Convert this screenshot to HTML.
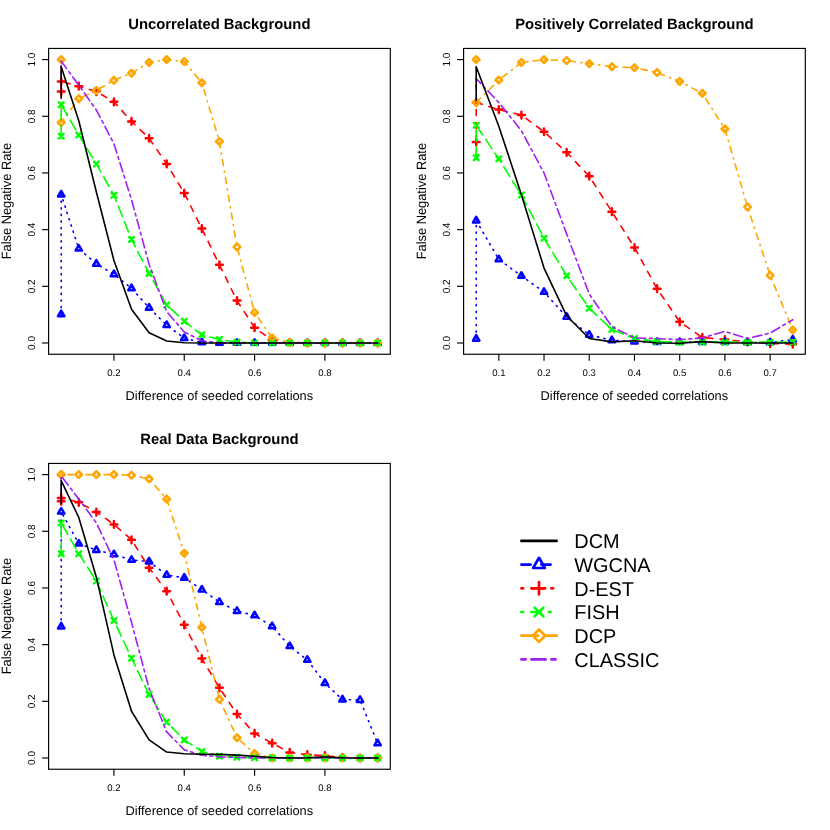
<!DOCTYPE html>
<html><head><meta charset="utf-8"><title>False Negative Rate</title>
<style>
html,body{margin:0;padding:0;background:#fff;}
svg{display:block;will-change:transform;text-rendering:geometricPrecision;font-family:"Liberation Sans",sans-serif;fill:#000;}
</style></head>
<body>
<svg width="830" height="830" viewBox="0 0 830 830">
<rect x="0" y="0" width="830" height="830" fill="#ffffff"/>
<path d="M61.2 91.62L61.2 81.42L78.78 86.24L96.36 91.62L113.94 101.83L131.52 121.38L149.1 138.24L166.68 163.89L184.26 193.08L201.84 228.59L219.42 264.78L237 300.6L254.58 327.7L272.16 340.17L289.74 342.43L307.32 343L324.9 343L342.48 343L360.06 343L377.64 343" fill="none" stroke="#FF0000" stroke-width="1.6" stroke-linecap="round" stroke-linejoin="round" stroke-dasharray="6.13 7.03"/>
<path d="M57.83 91.62H64.57M61.2 88.26V94.99" fill="none" stroke="#FF0000" stroke-width="2.5" stroke-linecap="round" stroke-linejoin="round"/>
<path d="M57.83 81.42H64.57M61.2 78.06V84.79" fill="none" stroke="#FF0000" stroke-width="2.5" stroke-linecap="round" stroke-linejoin="round"/>
<path d="M75.41 86.24H82.15M78.78 82.87V89.61" fill="none" stroke="#FF0000" stroke-width="2.5" stroke-linecap="round" stroke-linejoin="round"/>
<path d="M92.99 91.62H99.73M96.36 88.26V94.99" fill="none" stroke="#FF0000" stroke-width="2.5" stroke-linecap="round" stroke-linejoin="round"/>
<path d="M110.57 101.83H117.31M113.94 98.46V105.19" fill="none" stroke="#FF0000" stroke-width="2.5" stroke-linecap="round" stroke-linejoin="round"/>
<path d="M128.15 121.38H134.89M131.52 118.02V124.75" fill="none" stroke="#FF0000" stroke-width="2.5" stroke-linecap="round" stroke-linejoin="round"/>
<path d="M145.73 138.24H152.47M149.1 134.88V141.61" fill="none" stroke="#FF0000" stroke-width="2.5" stroke-linecap="round" stroke-linejoin="round"/>
<path d="M163.31 163.89H170.05M166.68 160.53V167.26" fill="none" stroke="#FF0000" stroke-width="2.5" stroke-linecap="round" stroke-linejoin="round"/>
<path d="M180.89 193.08H187.63M184.26 189.72V196.45" fill="none" stroke="#FF0000" stroke-width="2.5" stroke-linecap="round" stroke-linejoin="round"/>
<path d="M198.47 228.59H205.21M201.84 225.23V231.96" fill="none" stroke="#FF0000" stroke-width="2.5" stroke-linecap="round" stroke-linejoin="round"/>
<path d="M216.05 264.78H222.79M219.42 261.42V268.15" fill="none" stroke="#FF0000" stroke-width="2.5" stroke-linecap="round" stroke-linejoin="round"/>
<path d="M233.63 300.6H240.37M237 297.24V303.97" fill="none" stroke="#FF0000" stroke-width="2.5" stroke-linecap="round" stroke-linejoin="round"/>
<path d="M251.21 327.7H257.95M254.58 324.33V331.06" fill="none" stroke="#FF0000" stroke-width="2.5" stroke-linecap="round" stroke-linejoin="round"/>
<path d="M268.79 340.17H275.53M272.16 336.8V343.53" fill="none" stroke="#FF0000" stroke-width="2.5" stroke-linecap="round" stroke-linejoin="round"/>
<path d="M286.37 342.43H293.11M289.74 339.07V345.8" fill="none" stroke="#FF0000" stroke-width="2.5" stroke-linecap="round" stroke-linejoin="round"/>
<path d="M303.95 343H310.69M307.32 339.63V346.37" fill="none" stroke="#FF0000" stroke-width="2.5" stroke-linecap="round" stroke-linejoin="round"/>
<path d="M321.53 343H328.27M324.9 339.63V346.37" fill="none" stroke="#FF0000" stroke-width="2.5" stroke-linecap="round" stroke-linejoin="round"/>
<path d="M339.11 343H345.85M342.48 339.63V346.37" fill="none" stroke="#FF0000" stroke-width="2.5" stroke-linecap="round" stroke-linejoin="round"/>
<path d="M356.69 343H363.43M360.06 339.63V346.37" fill="none" stroke="#FF0000" stroke-width="2.5" stroke-linecap="round" stroke-linejoin="round"/>
<path d="M374.27 343H381.01M377.64 339.63V346.37" fill="none" stroke="#FF0000" stroke-width="2.5" stroke-linecap="round" stroke-linejoin="round"/>
<path d="M61.2 314.38L61.2 194.64L78.78 248.77L96.36 263.79L113.94 274.28L131.52 288.3L149.1 307.8L166.68 325.15L184.26 338.18L201.84 342.43L219.42 343L237 343L254.58 343L272.16 343L289.74 343L307.32 343L324.9 343L342.48 343L360.06 343L377.64 343" fill="none" stroke="#0000FF" stroke-width="1.6" stroke-linecap="round" stroke-linejoin="round" stroke-dasharray="1.2 5.39"/>
<path d="M61.2 310.68L64.41 316.23L57.99 316.23Z" fill="none" stroke="#0000FF" stroke-width="2.5" stroke-linecap="round" stroke-linejoin="round"/>
<path d="M61.2 190.94L64.41 196.49L57.99 196.49Z" fill="none" stroke="#0000FF" stroke-width="2.5" stroke-linecap="round" stroke-linejoin="round"/>
<path d="M78.78 245.07L81.99 250.62L75.57 250.62Z" fill="none" stroke="#0000FF" stroke-width="2.5" stroke-linecap="round" stroke-linejoin="round"/>
<path d="M96.36 260.09L99.57 265.64L93.15 265.64Z" fill="none" stroke="#0000FF" stroke-width="2.5" stroke-linecap="round" stroke-linejoin="round"/>
<path d="M113.94 270.57L117.15 276.13L110.73 276.13Z" fill="none" stroke="#0000FF" stroke-width="2.5" stroke-linecap="round" stroke-linejoin="round"/>
<path d="M131.52 284.6L134.73 290.15L128.31 290.15Z" fill="none" stroke="#0000FF" stroke-width="2.5" stroke-linecap="round" stroke-linejoin="round"/>
<path d="M149.1 304.1L152.31 309.65L145.89 309.65Z" fill="none" stroke="#0000FF" stroke-width="2.5" stroke-linecap="round" stroke-linejoin="round"/>
<path d="M166.68 321.44L169.89 327L163.47 327Z" fill="none" stroke="#0000FF" stroke-width="2.5" stroke-linecap="round" stroke-linejoin="round"/>
<path d="M184.26 334.48L187.47 340.03L181.05 340.03Z" fill="none" stroke="#0000FF" stroke-width="2.5" stroke-linecap="round" stroke-linejoin="round"/>
<path d="M201.84 338.73L205.05 344.28L198.63 344.28Z" fill="none" stroke="#0000FF" stroke-width="2.5" stroke-linecap="round" stroke-linejoin="round"/>
<path d="M219.42 339.3L222.63 344.85L216.21 344.85Z" fill="none" stroke="#0000FF" stroke-width="2.5" stroke-linecap="round" stroke-linejoin="round"/>
<path d="M237 339.3L240.21 344.85L233.79 344.85Z" fill="none" stroke="#0000FF" stroke-width="2.5" stroke-linecap="round" stroke-linejoin="round"/>
<path d="M254.58 339.3L257.79 344.85L251.37 344.85Z" fill="none" stroke="#0000FF" stroke-width="2.5" stroke-linecap="round" stroke-linejoin="round"/>
<path d="M272.16 339.3L275.37 344.85L268.95 344.85Z" fill="none" stroke="#0000FF" stroke-width="2.5" stroke-linecap="round" stroke-linejoin="round"/>
<path d="M289.74 339.3L292.95 344.85L286.53 344.85Z" fill="none" stroke="#0000FF" stroke-width="2.5" stroke-linecap="round" stroke-linejoin="round"/>
<path d="M307.32 339.3L310.53 344.85L304.11 344.85Z" fill="none" stroke="#0000FF" stroke-width="2.5" stroke-linecap="round" stroke-linejoin="round"/>
<path d="M324.9 339.3L328.11 344.85L321.69 344.85Z" fill="none" stroke="#0000FF" stroke-width="2.5" stroke-linecap="round" stroke-linejoin="round"/>
<path d="M342.48 339.3L345.69 344.85L339.27 344.85Z" fill="none" stroke="#0000FF" stroke-width="2.5" stroke-linecap="round" stroke-linejoin="round"/>
<path d="M360.06 339.3L363.27 344.85L356.85 344.85Z" fill="none" stroke="#0000FF" stroke-width="2.5" stroke-linecap="round" stroke-linejoin="round"/>
<path d="M377.64 339.3L380.85 344.85L374.43 344.85Z" fill="none" stroke="#0000FF" stroke-width="2.5" stroke-linecap="round" stroke-linejoin="round"/>
<path d="M61.2 59.6L61.2 122.51L78.78 98.71L96.36 90.49L113.94 80.29L131.52 73.2L149.1 62.43L166.68 59.6L184.26 61.58L201.84 82.84L219.42 141.5L237 246.93L254.58 312.53L272.16 337.9L289.74 342.43L307.32 343L324.9 343L342.48 343L360.06 343L377.64 343" fill="none" stroke="#FFA500" stroke-width="1.6" stroke-linecap="round" stroke-linejoin="round" stroke-dasharray="1.2 5.39 6.13 5.39"/>
<path d="M57.83 59.6L61.2 56.23L64.57 59.6L61.2 62.97Z" fill="none" stroke="#FFA500" stroke-width="2.5" stroke-linecap="round" stroke-linejoin="round"/>
<path d="M57.83 122.51L61.2 119.15L64.57 122.51L61.2 125.88Z" fill="none" stroke="#FFA500" stroke-width="2.5" stroke-linecap="round" stroke-linejoin="round"/>
<path d="M75.41 98.71L78.78 95.34L82.15 98.71L78.78 102.08Z" fill="none" stroke="#FFA500" stroke-width="2.5" stroke-linecap="round" stroke-linejoin="round"/>
<path d="M92.99 90.49L96.36 87.12L99.73 90.49L96.36 93.86Z" fill="none" stroke="#FFA500" stroke-width="2.5" stroke-linecap="round" stroke-linejoin="round"/>
<path d="M110.57 80.29L113.94 76.92L117.31 80.29L113.94 83.65Z" fill="none" stroke="#FFA500" stroke-width="2.5" stroke-linecap="round" stroke-linejoin="round"/>
<path d="M128.15 73.2L131.52 69.84L134.89 73.2L131.52 76.57Z" fill="none" stroke="#FFA500" stroke-width="2.5" stroke-linecap="round" stroke-linejoin="round"/>
<path d="M145.73 62.43L149.1 59.07L152.47 62.43L149.1 65.8Z" fill="none" stroke="#FFA500" stroke-width="2.5" stroke-linecap="round" stroke-linejoin="round"/>
<path d="M163.31 59.6L166.68 56.23L170.05 59.6L166.68 62.97Z" fill="none" stroke="#FFA500" stroke-width="2.5" stroke-linecap="round" stroke-linejoin="round"/>
<path d="M180.89 61.58L184.26 58.22L187.63 61.58L184.26 64.95Z" fill="none" stroke="#FFA500" stroke-width="2.5" stroke-linecap="round" stroke-linejoin="round"/>
<path d="M198.47 82.84L201.84 79.47L205.21 82.84L201.84 86.2Z" fill="none" stroke="#FFA500" stroke-width="2.5" stroke-linecap="round" stroke-linejoin="round"/>
<path d="M216.05 141.5L219.42 138.14L222.79 141.5L219.42 144.87Z" fill="none" stroke="#FFA500" stroke-width="2.5" stroke-linecap="round" stroke-linejoin="round"/>
<path d="M233.63 246.93L237 243.56L240.37 246.93L237 250.29Z" fill="none" stroke="#FFA500" stroke-width="2.5" stroke-linecap="round" stroke-linejoin="round"/>
<path d="M251.21 312.53L254.58 309.17L257.95 312.53L254.58 315.9Z" fill="none" stroke="#FFA500" stroke-width="2.5" stroke-linecap="round" stroke-linejoin="round"/>
<path d="M268.79 337.9L272.16 334.53L275.53 337.9L272.16 341.26Z" fill="none" stroke="#FFA500" stroke-width="2.5" stroke-linecap="round" stroke-linejoin="round"/>
<path d="M286.37 342.43L289.74 339.07L293.11 342.43L289.74 345.8Z" fill="none" stroke="#FFA500" stroke-width="2.5" stroke-linecap="round" stroke-linejoin="round"/>
<path d="M303.95 343L307.32 339.63L310.69 343L307.32 346.37Z" fill="none" stroke="#FFA500" stroke-width="2.5" stroke-linecap="round" stroke-linejoin="round"/>
<path d="M321.53 343L324.9 339.63L328.27 343L324.9 346.37Z" fill="none" stroke="#FFA500" stroke-width="2.5" stroke-linecap="round" stroke-linejoin="round"/>
<path d="M339.11 343L342.48 339.63L345.85 343L342.48 346.37Z" fill="none" stroke="#FFA500" stroke-width="2.5" stroke-linecap="round" stroke-linejoin="round"/>
<path d="M356.69 343L360.06 339.63L363.43 343L360.06 346.37Z" fill="none" stroke="#FFA500" stroke-width="2.5" stroke-linecap="round" stroke-linejoin="round"/>
<path d="M374.27 343L377.64 339.63L381.01 343L377.64 346.37Z" fill="none" stroke="#FFA500" stroke-width="2.5" stroke-linecap="round" stroke-linejoin="round"/>
<path d="M61.2 136.12L61.2 104.66L78.78 134.98L96.36 163.89L113.94 195.21L131.52 239.42L149.1 273.57L166.68 305.02L184.26 321.18L201.84 334.87L219.42 339.6L237 342.15L254.58 343L272.16 343L289.74 343L307.32 343L324.9 343L342.48 343L360.06 343L377.64 343" fill="none" stroke="#00FF00" stroke-width="1.6" stroke-linecap="round" stroke-linejoin="round" stroke-dasharray="11.07 5.39"/>
<path d="M58.82 133.74L63.58 138.5M58.82 138.5L63.58 133.74" fill="none" stroke="#00FF00" stroke-width="2.5" stroke-linecap="round" stroke-linejoin="round"/>
<path d="M58.82 102.28L63.58 107.04M58.82 107.04L63.58 102.28" fill="none" stroke="#00FF00" stroke-width="2.5" stroke-linecap="round" stroke-linejoin="round"/>
<path d="M76.4 132.6L81.16 137.36M76.4 137.36L81.16 132.6" fill="none" stroke="#00FF00" stroke-width="2.5" stroke-linecap="round" stroke-linejoin="round"/>
<path d="M93.98 161.51L98.74 166.27M93.98 166.27L98.74 161.51" fill="none" stroke="#00FF00" stroke-width="2.5" stroke-linecap="round" stroke-linejoin="round"/>
<path d="M111.56 192.83L116.32 197.59M111.56 197.59L116.32 192.83" fill="none" stroke="#00FF00" stroke-width="2.5" stroke-linecap="round" stroke-linejoin="round"/>
<path d="M129.14 237.04L133.9 241.8M129.14 241.8L133.9 237.04" fill="none" stroke="#00FF00" stroke-width="2.5" stroke-linecap="round" stroke-linejoin="round"/>
<path d="M146.72 271.19L151.48 275.95M146.72 275.95L151.48 271.19" fill="none" stroke="#00FF00" stroke-width="2.5" stroke-linecap="round" stroke-linejoin="round"/>
<path d="M164.3 302.64L169.06 307.4M164.3 307.4L169.06 302.64" fill="none" stroke="#00FF00" stroke-width="2.5" stroke-linecap="round" stroke-linejoin="round"/>
<path d="M181.88 318.8L186.64 323.56M181.88 323.56L186.64 318.8" fill="none" stroke="#00FF00" stroke-width="2.5" stroke-linecap="round" stroke-linejoin="round"/>
<path d="M199.46 332.49L204.22 337.25M199.46 337.25L204.22 332.49" fill="none" stroke="#00FF00" stroke-width="2.5" stroke-linecap="round" stroke-linejoin="round"/>
<path d="M217.04 337.22L221.8 341.98M217.04 341.98L221.8 337.22" fill="none" stroke="#00FF00" stroke-width="2.5" stroke-linecap="round" stroke-linejoin="round"/>
<path d="M234.62 339.77L239.38 344.53M234.62 344.53L239.38 339.77" fill="none" stroke="#00FF00" stroke-width="2.5" stroke-linecap="round" stroke-linejoin="round"/>
<path d="M252.2 340.62L256.96 345.38M252.2 345.38L256.96 340.62" fill="none" stroke="#00FF00" stroke-width="2.5" stroke-linecap="round" stroke-linejoin="round"/>
<path d="M269.78 340.62L274.54 345.38M269.78 345.38L274.54 340.62" fill="none" stroke="#00FF00" stroke-width="2.5" stroke-linecap="round" stroke-linejoin="round"/>
<path d="M287.36 340.62L292.12 345.38M287.36 345.38L292.12 340.62" fill="none" stroke="#00FF00" stroke-width="2.5" stroke-linecap="round" stroke-linejoin="round"/>
<path d="M304.94 340.62L309.7 345.38M304.94 345.38L309.7 340.62" fill="none" stroke="#00FF00" stroke-width="2.5" stroke-linecap="round" stroke-linejoin="round"/>
<path d="M322.52 340.62L327.28 345.38M322.52 345.38L327.28 340.62" fill="none" stroke="#00FF00" stroke-width="2.5" stroke-linecap="round" stroke-linejoin="round"/>
<path d="M340.1 340.62L344.86 345.38M340.1 345.38L344.86 340.62" fill="none" stroke="#00FF00" stroke-width="2.5" stroke-linecap="round" stroke-linejoin="round"/>
<path d="M357.68 340.62L362.44 345.38M357.68 345.38L362.44 340.62" fill="none" stroke="#00FF00" stroke-width="2.5" stroke-linecap="round" stroke-linejoin="round"/>
<path d="M375.26 340.62L380.02 345.38M375.26 345.38L380.02 340.62" fill="none" stroke="#00FF00" stroke-width="2.5" stroke-linecap="round" stroke-linejoin="round"/>
<path d="M61.2 87.94L61.2 61.3L78.78 85.11L96.36 110.05L113.94 143.77L131.52 199.6L149.1 264.21L166.68 311.54L184.26 332.03L201.84 340.73L219.42 343L237 343L254.58 343L272.16 343L289.74 343L307.32 343L324.9 343L342.48 343L360.06 343L377.64 343" fill="none" stroke="#A020F0" stroke-width="1.6" stroke-linecap="round" stroke-linejoin="round" stroke-dasharray="2.84 3.74 9.42 3.74"/>
<path d="M61.2 98.14L61.2 66.69L78.78 120.81L96.36 191.95L113.94 260.53L131.52 309.28L149.1 332.71L166.68 341.02L184.26 342.72L201.84 343L219.42 343L237 343L254.58 343L272.16 343L289.74 343L307.32 343L324.9 343L342.48 343L360.06 343L377.64 343" fill="none" stroke="#000000" stroke-width="1.6" stroke-linecap="round" stroke-linejoin="round"/>
<rect x="48.6" y="48.45" width="341.7" height="305.8" fill="none" stroke="#000" stroke-width="1.15"/>
<path d="M42.1 343.0H48.6" stroke="#000" stroke-width="1.15" fill="none"/>
<text transform="translate(35 343) rotate(-90) scale(1.04,1.08)" text-anchor="middle" font-size="9.6">0.0</text>
<path d="M42.1 286.32H48.6" stroke="#000" stroke-width="1.15" fill="none"/>
<text transform="translate(35 286.32) rotate(-90) scale(1.04,1.08)" text-anchor="middle" font-size="9.6">0.2</text>
<path d="M42.1 229.64H48.6" stroke="#000" stroke-width="1.15" fill="none"/>
<text transform="translate(35 229.64) rotate(-90) scale(1.04,1.08)" text-anchor="middle" font-size="9.6">0.4</text>
<path d="M42.1 172.96H48.6" stroke="#000" stroke-width="1.15" fill="none"/>
<text transform="translate(35 172.96) rotate(-90) scale(1.04,1.08)" text-anchor="middle" font-size="9.6">0.6</text>
<path d="M42.1 116.28H48.6" stroke="#000" stroke-width="1.15" fill="none"/>
<text transform="translate(35 116.28) rotate(-90) scale(1.04,1.08)" text-anchor="middle" font-size="9.6">0.8</text>
<path d="M42.1 59.6H48.6" stroke="#000" stroke-width="1.15" fill="none"/>
<text transform="translate(35 59.6) rotate(-90) scale(1.04,1.08)" text-anchor="middle" font-size="9.6">1.0</text>
<path d="M113.94 354.25V360.75" stroke="#000" stroke-width="1.15" fill="none"/>
<text x="113.94" y="376.1" text-anchor="middle" font-size="9.6">0.2</text>
<path d="M184.26 354.25V360.75" stroke="#000" stroke-width="1.15" fill="none"/>
<text x="184.26" y="376.1" text-anchor="middle" font-size="9.6">0.4</text>
<path d="M254.58 354.25V360.75" stroke="#000" stroke-width="1.15" fill="none"/>
<text x="254.58" y="376.1" text-anchor="middle" font-size="9.6">0.6</text>
<path d="M324.9 354.25V360.75" stroke="#000" stroke-width="1.15" fill="none"/>
<text x="324.9" y="376.1" text-anchor="middle" font-size="9.6">0.8</text>
<text x="219.35" y="29.35" text-anchor="middle" font-size="14.85" font-weight="bold">Uncorrelated Background</text>
<text x="219.35" y="399.8" text-anchor="middle" font-size="12.8">Difference of seeded correlations</text>
<text transform="translate(11 201.15) rotate(-90) scale(1,1.05)" text-anchor="middle" font-size="12.85">False Negative Rate</text>
<path d="M476.2 141.93L476.2 102.48L498.81 109.62L521.42 115.06L544.03 131.75L566.64 152.36L589.25 176.22L611.86 211.64L634.47 247.49L657.08 288.67L679.69 321.86L702.3 337.47L724.91 339.6L747.52 341.87L770.13 343.57L792.74 344.13" fill="none" stroke="#FF0000" stroke-width="1.6" stroke-linecap="round" stroke-linejoin="round" stroke-dasharray="6.13 7.03"/>
<path d="M472.83 141.93H479.57M476.2 138.56V145.29" fill="none" stroke="#FF0000" stroke-width="2.5" stroke-linecap="round" stroke-linejoin="round"/>
<path d="M472.83 102.48H479.57M476.2 99.11V105.84" fill="none" stroke="#FF0000" stroke-width="2.5" stroke-linecap="round" stroke-linejoin="round"/>
<path d="M495.44 109.62H502.18M498.81 106.25V112.99" fill="none" stroke="#FF0000" stroke-width="2.5" stroke-linecap="round" stroke-linejoin="round"/>
<path d="M518.05 115.06H524.79M521.42 111.7V118.43" fill="none" stroke="#FF0000" stroke-width="2.5" stroke-linecap="round" stroke-linejoin="round"/>
<path d="M540.66 131.75H547.4M544.03 128.39V135.12" fill="none" stroke="#FF0000" stroke-width="2.5" stroke-linecap="round" stroke-linejoin="round"/>
<path d="M563.27 152.36H570.01M566.64 148.99V155.72" fill="none" stroke="#FF0000" stroke-width="2.5" stroke-linecap="round" stroke-linejoin="round"/>
<path d="M585.88 176.22H592.62M589.25 172.85V179.58" fill="none" stroke="#FF0000" stroke-width="2.5" stroke-linecap="round" stroke-linejoin="round"/>
<path d="M608.49 211.64H615.23M611.86 208.28V215.01" fill="none" stroke="#FF0000" stroke-width="2.5" stroke-linecap="round" stroke-linejoin="round"/>
<path d="M631.1 247.49H637.84M634.47 244.13V250.86" fill="none" stroke="#FF0000" stroke-width="2.5" stroke-linecap="round" stroke-linejoin="round"/>
<path d="M653.71 288.67H660.45M657.08 285.31V292.04" fill="none" stroke="#FF0000" stroke-width="2.5" stroke-linecap="round" stroke-linejoin="round"/>
<path d="M676.32 321.86H683.06M679.69 318.49V325.22" fill="none" stroke="#FF0000" stroke-width="2.5" stroke-linecap="round" stroke-linejoin="round"/>
<path d="M698.93 337.47H705.67M702.3 334.11V340.84" fill="none" stroke="#FF0000" stroke-width="2.5" stroke-linecap="round" stroke-linejoin="round"/>
<path d="M721.54 339.6H728.28M724.91 336.23V342.97" fill="none" stroke="#FF0000" stroke-width="2.5" stroke-linecap="round" stroke-linejoin="round"/>
<path d="M744.15 341.87H750.89M747.52 338.5V345.23" fill="none" stroke="#FF0000" stroke-width="2.5" stroke-linecap="round" stroke-linejoin="round"/>
<path d="M766.76 343.57H773.5M770.13 340.2V346.93" fill="none" stroke="#FF0000" stroke-width="2.5" stroke-linecap="round" stroke-linejoin="round"/>
<path d="M789.37 344.13H796.11M792.74 340.77V347.5" fill="none" stroke="#FF0000" stroke-width="2.5" stroke-linecap="round" stroke-linejoin="round"/>
<path d="M476.2 338.81L476.2 220.57L498.81 259.45L521.42 275.92L544.03 291.99L566.64 316.93L589.25 334.89L611.86 340.31L634.47 341.58L657.08 342.15L679.69 342.15L702.3 342.15L724.91 342.15L747.52 342.43L770.13 342.43L792.74 339.6" fill="none" stroke="#0000FF" stroke-width="1.6" stroke-linecap="round" stroke-linejoin="round" stroke-dasharray="1.2 5.39"/>
<path d="M476.2 335.1L479.41 340.66L472.99 340.66Z" fill="none" stroke="#0000FF" stroke-width="2.5" stroke-linecap="round" stroke-linejoin="round"/>
<path d="M476.2 216.87L479.41 222.42L472.99 222.42Z" fill="none" stroke="#0000FF" stroke-width="2.5" stroke-linecap="round" stroke-linejoin="round"/>
<path d="M498.81 255.75L502.02 261.3L495.6 261.3Z" fill="none" stroke="#0000FF" stroke-width="2.5" stroke-linecap="round" stroke-linejoin="round"/>
<path d="M521.42 272.22L524.63 277.77L518.21 277.77Z" fill="none" stroke="#0000FF" stroke-width="2.5" stroke-linecap="round" stroke-linejoin="round"/>
<path d="M544.03 288.29L547.24 293.84L540.82 293.84Z" fill="none" stroke="#0000FF" stroke-width="2.5" stroke-linecap="round" stroke-linejoin="round"/>
<path d="M566.64 313.23L569.85 318.78L563.43 318.78Z" fill="none" stroke="#0000FF" stroke-width="2.5" stroke-linecap="round" stroke-linejoin="round"/>
<path d="M589.25 331.19L592.46 336.75L586.04 336.75Z" fill="none" stroke="#0000FF" stroke-width="2.5" stroke-linecap="round" stroke-linejoin="round"/>
<path d="M611.86 336.61L615.07 342.16L608.65 342.16Z" fill="none" stroke="#0000FF" stroke-width="2.5" stroke-linecap="round" stroke-linejoin="round"/>
<path d="M634.47 337.88L637.68 343.43L631.26 343.43Z" fill="none" stroke="#0000FF" stroke-width="2.5" stroke-linecap="round" stroke-linejoin="round"/>
<path d="M657.08 338.45L660.29 344L653.87 344Z" fill="none" stroke="#0000FF" stroke-width="2.5" stroke-linecap="round" stroke-linejoin="round"/>
<path d="M679.69 338.45L682.9 344L676.48 344Z" fill="none" stroke="#0000FF" stroke-width="2.5" stroke-linecap="round" stroke-linejoin="round"/>
<path d="M702.3 338.45L705.51 344L699.09 344Z" fill="none" stroke="#0000FF" stroke-width="2.5" stroke-linecap="round" stroke-linejoin="round"/>
<path d="M724.91 338.45L728.12 344L721.7 344Z" fill="none" stroke="#0000FF" stroke-width="2.5" stroke-linecap="round" stroke-linejoin="round"/>
<path d="M747.52 338.73L750.73 344.28L744.31 344.28Z" fill="none" stroke="#0000FF" stroke-width="2.5" stroke-linecap="round" stroke-linejoin="round"/>
<path d="M770.13 338.73L773.34 344.28L766.92 344.28Z" fill="none" stroke="#0000FF" stroke-width="2.5" stroke-linecap="round" stroke-linejoin="round"/>
<path d="M792.74 335.9L795.95 341.45L789.53 341.45Z" fill="none" stroke="#0000FF" stroke-width="2.5" stroke-linecap="round" stroke-linejoin="round"/>
<path d="M476.2 59.6L476.2 102.48L498.81 80.12L521.42 62.43L544.03 59.74L566.64 60.59L589.25 63.65L611.86 66.69L634.47 67.68L657.08 72.52L679.69 81.42L702.3 93.32L724.91 128.92L747.52 206.97L770.13 275.27L792.74 329.88" fill="none" stroke="#FFA500" stroke-width="1.6" stroke-linecap="round" stroke-linejoin="round" stroke-dasharray="1.2 5.39 6.13 5.39"/>
<path d="M472.83 59.6L476.2 56.23L479.57 59.6L476.2 62.97Z" fill="none" stroke="#FFA500" stroke-width="2.5" stroke-linecap="round" stroke-linejoin="round"/>
<path d="M472.83 102.48L476.2 99.11L479.57 102.48L476.2 105.84Z" fill="none" stroke="#FFA500" stroke-width="2.5" stroke-linecap="round" stroke-linejoin="round"/>
<path d="M495.44 80.12L498.81 76.75L502.18 80.12L498.81 83.48Z" fill="none" stroke="#FFA500" stroke-width="2.5" stroke-linecap="round" stroke-linejoin="round"/>
<path d="M518.05 62.43L521.42 59.07L524.79 62.43L521.42 65.8Z" fill="none" stroke="#FFA500" stroke-width="2.5" stroke-linecap="round" stroke-linejoin="round"/>
<path d="M540.66 59.74L544.03 56.38L547.4 59.74L544.03 63.11Z" fill="none" stroke="#FFA500" stroke-width="2.5" stroke-linecap="round" stroke-linejoin="round"/>
<path d="M563.27 60.59L566.64 57.23L570.01 60.59L566.64 63.96Z" fill="none" stroke="#FFA500" stroke-width="2.5" stroke-linecap="round" stroke-linejoin="round"/>
<path d="M585.88 63.65L589.25 60.29L592.62 63.65L589.25 67.02Z" fill="none" stroke="#FFA500" stroke-width="2.5" stroke-linecap="round" stroke-linejoin="round"/>
<path d="M608.49 66.69L611.86 63.32L615.23 66.69L611.86 70.05Z" fill="none" stroke="#FFA500" stroke-width="2.5" stroke-linecap="round" stroke-linejoin="round"/>
<path d="M631.1 67.68L634.47 64.31L637.84 67.68L634.47 71.04Z" fill="none" stroke="#FFA500" stroke-width="2.5" stroke-linecap="round" stroke-linejoin="round"/>
<path d="M653.71 72.52L657.08 69.16L660.45 72.52L657.08 75.89Z" fill="none" stroke="#FFA500" stroke-width="2.5" stroke-linecap="round" stroke-linejoin="round"/>
<path d="M676.32 81.42L679.69 78.06L683.06 81.42L679.69 84.79Z" fill="none" stroke="#FFA500" stroke-width="2.5" stroke-linecap="round" stroke-linejoin="round"/>
<path d="M698.93 93.32L702.3 89.96L705.67 93.32L702.3 96.69Z" fill="none" stroke="#FFA500" stroke-width="2.5" stroke-linecap="round" stroke-linejoin="round"/>
<path d="M721.54 128.92L724.91 125.55L728.28 128.92L724.91 132.29Z" fill="none" stroke="#FFA500" stroke-width="2.5" stroke-linecap="round" stroke-linejoin="round"/>
<path d="M744.15 206.97L747.52 203.6L750.89 206.97L747.52 210.33Z" fill="none" stroke="#FFA500" stroke-width="2.5" stroke-linecap="round" stroke-linejoin="round"/>
<path d="M766.76 275.27L770.13 271.9L773.5 275.27L770.13 278.63Z" fill="none" stroke="#FFA500" stroke-width="2.5" stroke-linecap="round" stroke-linejoin="round"/>
<path d="M789.37 329.88L792.74 326.51L796.11 329.88L792.74 333.24Z" fill="none" stroke="#FFA500" stroke-width="2.5" stroke-linecap="round" stroke-linejoin="round"/>
<path d="M476.2 157.77L476.2 125.35L498.81 158.85L521.42 195.07L544.03 238.14L566.64 275.66L589.25 308.2L611.86 329.45L634.47 338.55L657.08 341.58L679.69 342.15L702.3 342.15L724.91 342.15L747.52 342.15L770.13 342.15L792.74 342.15" fill="none" stroke="#00FF00" stroke-width="1.6" stroke-linecap="round" stroke-linejoin="round" stroke-dasharray="11.07 5.39"/>
<path d="M473.82 155.39L478.58 160.15M473.82 160.15L478.58 155.39" fill="none" stroke="#00FF00" stroke-width="2.5" stroke-linecap="round" stroke-linejoin="round"/>
<path d="M473.82 122.97L478.58 127.73M473.82 127.73L478.58 122.97" fill="none" stroke="#00FF00" stroke-width="2.5" stroke-linecap="round" stroke-linejoin="round"/>
<path d="M496.43 156.47L501.19 161.23M496.43 161.23L501.19 156.47" fill="none" stroke="#00FF00" stroke-width="2.5" stroke-linecap="round" stroke-linejoin="round"/>
<path d="M519.04 192.69L523.8 197.45M519.04 197.45L523.8 192.69" fill="none" stroke="#00FF00" stroke-width="2.5" stroke-linecap="round" stroke-linejoin="round"/>
<path d="M541.65 235.76L546.41 240.52M541.65 240.52L546.41 235.76" fill="none" stroke="#00FF00" stroke-width="2.5" stroke-linecap="round" stroke-linejoin="round"/>
<path d="M564.26 273.28L569.02 278.04M564.26 278.04L569.02 273.28" fill="none" stroke="#00FF00" stroke-width="2.5" stroke-linecap="round" stroke-linejoin="round"/>
<path d="M586.87 305.82L591.63 310.58M586.87 310.58L591.63 305.82" fill="none" stroke="#00FF00" stroke-width="2.5" stroke-linecap="round" stroke-linejoin="round"/>
<path d="M609.48 327.07L614.24 331.83M609.48 331.83L614.24 327.07" fill="none" stroke="#00FF00" stroke-width="2.5" stroke-linecap="round" stroke-linejoin="round"/>
<path d="M632.09 336.17L636.85 340.93M632.09 340.93L636.85 336.17" fill="none" stroke="#00FF00" stroke-width="2.5" stroke-linecap="round" stroke-linejoin="round"/>
<path d="M654.7 339.2L659.46 343.96M654.7 343.96L659.46 339.2" fill="none" stroke="#00FF00" stroke-width="2.5" stroke-linecap="round" stroke-linejoin="round"/>
<path d="M677.31 339.77L682.07 344.53M677.31 344.53L682.07 339.77" fill="none" stroke="#00FF00" stroke-width="2.5" stroke-linecap="round" stroke-linejoin="round"/>
<path d="M699.92 339.77L704.68 344.53M699.92 344.53L704.68 339.77" fill="none" stroke="#00FF00" stroke-width="2.5" stroke-linecap="round" stroke-linejoin="round"/>
<path d="M722.53 339.77L727.29 344.53M722.53 344.53L727.29 339.77" fill="none" stroke="#00FF00" stroke-width="2.5" stroke-linecap="round" stroke-linejoin="round"/>
<path d="M745.14 339.77L749.9 344.53M745.14 344.53L749.9 339.77" fill="none" stroke="#00FF00" stroke-width="2.5" stroke-linecap="round" stroke-linejoin="round"/>
<path d="M767.75 339.77L772.51 344.53M767.75 344.53L772.51 339.77" fill="none" stroke="#00FF00" stroke-width="2.5" stroke-linecap="round" stroke-linejoin="round"/>
<path d="M790.36 339.77L795.12 344.53M790.36 344.53L795.12 339.77" fill="none" stroke="#00FF00" stroke-width="2.5" stroke-linecap="round" stroke-linejoin="round"/>
<path d="M476.2 87.94L476.2 78.59L498.81 102.48L521.42 130.73L544.03 172.96L566.64 233.89L589.25 294.09L611.86 326.62L634.47 337.9L657.08 338.55L679.69 339.6L702.3 337.9L724.91 331.38L747.52 338.55L770.13 333.08L792.74 319.7" fill="none" stroke="#A020F0" stroke-width="1.6" stroke-linecap="round" stroke-linejoin="round" stroke-dasharray="2.84 3.74 9.42 3.74"/>
<path d="M476.2 100.41L476.2 66.69L498.81 126.34L521.42 194.64L544.03 268.07L566.64 315.79L589.25 338.55L611.86 341.87L634.47 340.73L657.08 343L679.69 343.28L702.3 341.58L724.91 343L747.52 343L770.13 343L792.74 343" fill="none" stroke="#000000" stroke-width="1.6" stroke-linecap="round" stroke-linejoin="round"/>
<rect x="463.6" y="48.45" width="341.69999999999993" height="305.8" fill="none" stroke="#000" stroke-width="1.15"/>
<path d="M457.1 343.0H463.6" stroke="#000" stroke-width="1.15" fill="none"/>
<text transform="translate(450 343) rotate(-90) scale(1.04,1.08)" text-anchor="middle" font-size="9.6">0.0</text>
<path d="M457.1 286.32H463.6" stroke="#000" stroke-width="1.15" fill="none"/>
<text transform="translate(450 286.32) rotate(-90) scale(1.04,1.08)" text-anchor="middle" font-size="9.6">0.2</text>
<path d="M457.1 229.64H463.6" stroke="#000" stroke-width="1.15" fill="none"/>
<text transform="translate(450 229.64) rotate(-90) scale(1.04,1.08)" text-anchor="middle" font-size="9.6">0.4</text>
<path d="M457.1 172.96H463.6" stroke="#000" stroke-width="1.15" fill="none"/>
<text transform="translate(450 172.96) rotate(-90) scale(1.04,1.08)" text-anchor="middle" font-size="9.6">0.6</text>
<path d="M457.1 116.28H463.6" stroke="#000" stroke-width="1.15" fill="none"/>
<text transform="translate(450 116.28) rotate(-90) scale(1.04,1.08)" text-anchor="middle" font-size="9.6">0.8</text>
<path d="M457.1 59.6H463.6" stroke="#000" stroke-width="1.15" fill="none"/>
<text transform="translate(450 59.6) rotate(-90) scale(1.04,1.08)" text-anchor="middle" font-size="9.6">1.0</text>
<path d="M498.81 354.25V360.75" stroke="#000" stroke-width="1.15" fill="none"/>
<text x="498.81" y="376.1" text-anchor="middle" font-size="9.6">0.1</text>
<path d="M544.03 354.25V360.75" stroke="#000" stroke-width="1.15" fill="none"/>
<text x="544.03" y="376.1" text-anchor="middle" font-size="9.6">0.2</text>
<path d="M589.25 354.25V360.75" stroke="#000" stroke-width="1.15" fill="none"/>
<text x="589.25" y="376.1" text-anchor="middle" font-size="9.6">0.3</text>
<path d="M634.47 354.25V360.75" stroke="#000" stroke-width="1.15" fill="none"/>
<text x="634.47" y="376.1" text-anchor="middle" font-size="9.6">0.4</text>
<path d="M679.69 354.25V360.75" stroke="#000" stroke-width="1.15" fill="none"/>
<text x="679.69" y="376.1" text-anchor="middle" font-size="9.6">0.5</text>
<path d="M724.91 354.25V360.75" stroke="#000" stroke-width="1.15" fill="none"/>
<text x="724.91" y="376.1" text-anchor="middle" font-size="9.6">0.6</text>
<path d="M770.13 354.25V360.75" stroke="#000" stroke-width="1.15" fill="none"/>
<text x="770.13" y="376.1" text-anchor="middle" font-size="9.6">0.7</text>
<text x="634.35" y="29.35" text-anchor="middle" font-size="14.85" font-weight="bold">Positively Correlated Background</text>
<text x="634.35" y="399.8" text-anchor="middle" font-size="12.8">Difference of seeded correlations</text>
<text transform="translate(426 201.15) rotate(-90) scale(1,1.05)" text-anchor="middle" font-size="12.85">False Negative Rate</text>
<path d="M61.2 501.24L61.2 497.95L78.78 502.29L96.36 512.07L113.94 524.39L131.52 539.78L149.1 567.78L166.68 591.22L184.26 624.8L201.84 658.58L219.42 687.83L237 714.07L254.58 733.4L272.16 743.15L289.74 752.47L307.32 754.63L324.9 755.73L342.48 757.43L360.06 758L377.64 758" fill="none" stroke="#FF0000" stroke-width="1.6" stroke-linecap="round" stroke-linejoin="round" stroke-dasharray="6.13 7.03"/>
<path d="M57.83 501.24H64.57M61.2 497.87V504.61" fill="none" stroke="#FF0000" stroke-width="2.5" stroke-linecap="round" stroke-linejoin="round"/>
<path d="M57.83 497.95H64.57M61.2 494.59V501.32" fill="none" stroke="#FF0000" stroke-width="2.5" stroke-linecap="round" stroke-linejoin="round"/>
<path d="M75.41 502.29H82.15M78.78 498.92V505.65" fill="none" stroke="#FF0000" stroke-width="2.5" stroke-linecap="round" stroke-linejoin="round"/>
<path d="M92.99 512.07H99.73M96.36 508.7V515.43" fill="none" stroke="#FF0000" stroke-width="2.5" stroke-linecap="round" stroke-linejoin="round"/>
<path d="M110.57 524.39H117.31M113.94 521.03V527.76" fill="none" stroke="#FF0000" stroke-width="2.5" stroke-linecap="round" stroke-linejoin="round"/>
<path d="M128.15 539.78H134.89M131.52 536.42V543.15" fill="none" stroke="#FF0000" stroke-width="2.5" stroke-linecap="round" stroke-linejoin="round"/>
<path d="M145.73 567.78H152.47M149.1 564.42V571.15" fill="none" stroke="#FF0000" stroke-width="2.5" stroke-linecap="round" stroke-linejoin="round"/>
<path d="M163.31 591.22H170.05M166.68 587.85V594.58" fill="none" stroke="#FF0000" stroke-width="2.5" stroke-linecap="round" stroke-linejoin="round"/>
<path d="M180.89 624.8H187.63M184.26 621.44V628.17" fill="none" stroke="#FF0000" stroke-width="2.5" stroke-linecap="round" stroke-linejoin="round"/>
<path d="M198.47 658.58H205.21M201.84 655.22V661.95" fill="none" stroke="#FF0000" stroke-width="2.5" stroke-linecap="round" stroke-linejoin="round"/>
<path d="M216.05 687.83H222.79M219.42 684.46V691.2" fill="none" stroke="#FF0000" stroke-width="2.5" stroke-linecap="round" stroke-linejoin="round"/>
<path d="M233.63 714.07H240.37M237 710.71V717.44" fill="none" stroke="#FF0000" stroke-width="2.5" stroke-linecap="round" stroke-linejoin="round"/>
<path d="M251.21 733.4H257.95M254.58 730.04V736.77" fill="none" stroke="#FF0000" stroke-width="2.5" stroke-linecap="round" stroke-linejoin="round"/>
<path d="M268.79 743.15H275.53M272.16 739.78V746.52" fill="none" stroke="#FF0000" stroke-width="2.5" stroke-linecap="round" stroke-linejoin="round"/>
<path d="M286.37 752.47H293.11M289.74 749.11V755.84" fill="none" stroke="#FF0000" stroke-width="2.5" stroke-linecap="round" stroke-linejoin="round"/>
<path d="M303.95 754.63H310.69M307.32 751.26V757.99" fill="none" stroke="#FF0000" stroke-width="2.5" stroke-linecap="round" stroke-linejoin="round"/>
<path d="M321.53 755.73H328.27M324.9 752.37V759.1" fill="none" stroke="#FF0000" stroke-width="2.5" stroke-linecap="round" stroke-linejoin="round"/>
<path d="M339.11 757.43H345.85M342.48 754.07V760.8" fill="none" stroke="#FF0000" stroke-width="2.5" stroke-linecap="round" stroke-linejoin="round"/>
<path d="M356.69 758H363.43M360.06 754.63V761.37" fill="none" stroke="#FF0000" stroke-width="2.5" stroke-linecap="round" stroke-linejoin="round"/>
<path d="M374.27 758H381.01M377.64 754.63V761.37" fill="none" stroke="#FF0000" stroke-width="2.5" stroke-linecap="round" stroke-linejoin="round"/>
<path d="M61.2 626.62L61.2 511.73L78.78 543.75L96.36 550.04L113.94 554.41L131.52 560.02L149.1 561.55L166.68 575.01L184.26 577.81L201.84 589.66L219.42 602.13L237 611.11L254.58 615.45L272.16 626.3L289.74 646.26L307.32 659.94L324.9 683.1L342.48 699.62L360.06 700.04L377.64 743.4" fill="none" stroke="#0000FF" stroke-width="1.6" stroke-linecap="round" stroke-linejoin="round" stroke-dasharray="1.2 5.39"/>
<path d="M61.2 622.91L64.41 628.47L57.99 628.47Z" fill="none" stroke="#0000FF" stroke-width="2.5" stroke-linecap="round" stroke-linejoin="round"/>
<path d="M61.2 508.02L64.41 513.58L57.99 513.58Z" fill="none" stroke="#0000FF" stroke-width="2.5" stroke-linecap="round" stroke-linejoin="round"/>
<path d="M78.78 540.05L81.99 545.6L75.57 545.6Z" fill="none" stroke="#0000FF" stroke-width="2.5" stroke-linecap="round" stroke-linejoin="round"/>
<path d="M96.36 546.34L99.57 551.89L93.15 551.89Z" fill="none" stroke="#0000FF" stroke-width="2.5" stroke-linecap="round" stroke-linejoin="round"/>
<path d="M113.94 550.7L117.15 556.26L110.73 556.26Z" fill="none" stroke="#0000FF" stroke-width="2.5" stroke-linecap="round" stroke-linejoin="round"/>
<path d="M131.52 556.32L134.73 561.87L128.31 561.87Z" fill="none" stroke="#0000FF" stroke-width="2.5" stroke-linecap="round" stroke-linejoin="round"/>
<path d="M149.1 557.85L152.31 563.4L145.89 563.4Z" fill="none" stroke="#0000FF" stroke-width="2.5" stroke-linecap="round" stroke-linejoin="round"/>
<path d="M166.68 571.31L169.89 576.86L163.47 576.86Z" fill="none" stroke="#0000FF" stroke-width="2.5" stroke-linecap="round" stroke-linejoin="round"/>
<path d="M184.26 574.11L187.47 579.66L181.05 579.66Z" fill="none" stroke="#0000FF" stroke-width="2.5" stroke-linecap="round" stroke-linejoin="round"/>
<path d="M201.84 585.96L205.05 591.51L198.63 591.51Z" fill="none" stroke="#0000FF" stroke-width="2.5" stroke-linecap="round" stroke-linejoin="round"/>
<path d="M219.42 598.43L222.63 603.98L216.21 603.98Z" fill="none" stroke="#0000FF" stroke-width="2.5" stroke-linecap="round" stroke-linejoin="round"/>
<path d="M237 607.41L240.21 612.96L233.79 612.96Z" fill="none" stroke="#0000FF" stroke-width="2.5" stroke-linecap="round" stroke-linejoin="round"/>
<path d="M254.58 611.75L257.79 617.3L251.37 617.3Z" fill="none" stroke="#0000FF" stroke-width="2.5" stroke-linecap="round" stroke-linejoin="round"/>
<path d="M272.16 622.6L275.37 628.15L268.95 628.15Z" fill="none" stroke="#0000FF" stroke-width="2.5" stroke-linecap="round" stroke-linejoin="round"/>
<path d="M289.74 642.55L292.95 648.11L286.53 648.11Z" fill="none" stroke="#0000FF" stroke-width="2.5" stroke-linecap="round" stroke-linejoin="round"/>
<path d="M307.32 656.24L310.53 661.79L304.11 661.79Z" fill="none" stroke="#0000FF" stroke-width="2.5" stroke-linecap="round" stroke-linejoin="round"/>
<path d="M324.9 679.4L328.11 684.95L321.69 684.95Z" fill="none" stroke="#0000FF" stroke-width="2.5" stroke-linecap="round" stroke-linejoin="round"/>
<path d="M342.48 695.92L345.69 701.47L339.27 701.47Z" fill="none" stroke="#0000FF" stroke-width="2.5" stroke-linecap="round" stroke-linejoin="round"/>
<path d="M360.06 696.34L363.27 701.9L356.85 701.9Z" fill="none" stroke="#0000FF" stroke-width="2.5" stroke-linecap="round" stroke-linejoin="round"/>
<path d="M377.64 739.7L380.85 745.26L374.43 745.26Z" fill="none" stroke="#0000FF" stroke-width="2.5" stroke-linecap="round" stroke-linejoin="round"/>
<path d="M61.2 474.6L61.2 474.6L78.78 474.6L96.36 474.6L113.94 474.6L131.52 475.17L149.1 478.85L166.68 499.03L184.26 553.24L201.84 627.35L219.42 699.34L237 737.71L254.58 753.55L272.16 758L289.74 758L307.32 758L324.9 758L342.48 758L360.06 758L377.64 758" fill="none" stroke="#FFA500" stroke-width="1.6" stroke-linecap="round" stroke-linejoin="round" stroke-dasharray="1.2 5.39 6.13 5.39"/>
<path d="M57.83 474.6L61.2 471.23L64.57 474.6L61.2 477.97Z" fill="none" stroke="#FFA500" stroke-width="2.5" stroke-linecap="round" stroke-linejoin="round"/>
<path d="M57.83 474.6L61.2 471.23L64.57 474.6L61.2 477.97Z" fill="none" stroke="#FFA500" stroke-width="2.5" stroke-linecap="round" stroke-linejoin="round"/>
<path d="M75.41 474.6L78.78 471.23L82.15 474.6L78.78 477.97Z" fill="none" stroke="#FFA500" stroke-width="2.5" stroke-linecap="round" stroke-linejoin="round"/>
<path d="M92.99 474.6L96.36 471.23L99.73 474.6L96.36 477.97Z" fill="none" stroke="#FFA500" stroke-width="2.5" stroke-linecap="round" stroke-linejoin="round"/>
<path d="M110.57 474.6L113.94 471.23L117.31 474.6L113.94 477.97Z" fill="none" stroke="#FFA500" stroke-width="2.5" stroke-linecap="round" stroke-linejoin="round"/>
<path d="M128.15 475.17L131.52 471.8L134.89 475.17L131.52 478.53Z" fill="none" stroke="#FFA500" stroke-width="2.5" stroke-linecap="round" stroke-linejoin="round"/>
<path d="M145.73 478.85L149.1 475.49L152.47 478.85L149.1 482.22Z" fill="none" stroke="#FFA500" stroke-width="2.5" stroke-linecap="round" stroke-linejoin="round"/>
<path d="M163.31 499.03L166.68 495.66L170.05 499.03L166.68 502.39Z" fill="none" stroke="#FFA500" stroke-width="2.5" stroke-linecap="round" stroke-linejoin="round"/>
<path d="M180.89 553.24L184.26 549.88L187.63 553.24L184.26 556.61Z" fill="none" stroke="#FFA500" stroke-width="2.5" stroke-linecap="round" stroke-linejoin="round"/>
<path d="M198.47 627.35L201.84 623.99L205.21 627.35L201.84 630.72Z" fill="none" stroke="#FFA500" stroke-width="2.5" stroke-linecap="round" stroke-linejoin="round"/>
<path d="M216.05 699.34L219.42 695.97L222.79 699.34L219.42 702.7Z" fill="none" stroke="#FFA500" stroke-width="2.5" stroke-linecap="round" stroke-linejoin="round"/>
<path d="M233.63 737.71L237 734.34L240.37 737.71L237 741.07Z" fill="none" stroke="#FFA500" stroke-width="2.5" stroke-linecap="round" stroke-linejoin="round"/>
<path d="M251.21 753.55L254.58 750.18L257.95 753.55L254.58 756.92Z" fill="none" stroke="#FFA500" stroke-width="2.5" stroke-linecap="round" stroke-linejoin="round"/>
<path d="M268.79 758L272.16 754.63L275.53 758L272.16 761.37Z" fill="none" stroke="#FFA500" stroke-width="2.5" stroke-linecap="round" stroke-linejoin="round"/>
<path d="M286.37 758L289.74 754.63L293.11 758L289.74 761.37Z" fill="none" stroke="#FFA500" stroke-width="2.5" stroke-linecap="round" stroke-linejoin="round"/>
<path d="M303.95 758L307.32 754.63L310.69 758L307.32 761.37Z" fill="none" stroke="#FFA500" stroke-width="2.5" stroke-linecap="round" stroke-linejoin="round"/>
<path d="M321.53 758L324.9 754.63L328.27 758L324.9 761.37Z" fill="none" stroke="#FFA500" stroke-width="2.5" stroke-linecap="round" stroke-linejoin="round"/>
<path d="M339.11 758L342.48 754.63L345.85 758L342.48 761.37Z" fill="none" stroke="#FFA500" stroke-width="2.5" stroke-linecap="round" stroke-linejoin="round"/>
<path d="M356.69 758L360.06 754.63L363.43 758L360.06 761.37Z" fill="none" stroke="#FFA500" stroke-width="2.5" stroke-linecap="round" stroke-linejoin="round"/>
<path d="M374.27 758L377.64 754.63L381.01 758L377.64 761.37Z" fill="none" stroke="#FFA500" stroke-width="2.5" stroke-linecap="round" stroke-linejoin="round"/>
<path d="M61.2 553.67L61.2 522.89L78.78 553.67L96.36 581.02L113.94 620.61L131.52 658.13L149.1 694.58L166.68 722.12L184.26 739.89L201.84 751.4L219.42 756.16L237 757.15L254.58 757.72L272.16 758L289.74 758L307.32 758L324.9 758L342.48 758L360.06 758L377.64 758" fill="none" stroke="#00FF00" stroke-width="1.6" stroke-linecap="round" stroke-linejoin="round" stroke-dasharray="11.07 5.39"/>
<path d="M58.82 551.29L63.58 556.05M58.82 556.05L63.58 551.29" fill="none" stroke="#00FF00" stroke-width="2.5" stroke-linecap="round" stroke-linejoin="round"/>
<path d="M58.82 520.51L63.58 525.27M58.82 525.27L63.58 520.51" fill="none" stroke="#00FF00" stroke-width="2.5" stroke-linecap="round" stroke-linejoin="round"/>
<path d="M76.4 551.29L81.16 556.05M76.4 556.05L81.16 551.29" fill="none" stroke="#00FF00" stroke-width="2.5" stroke-linecap="round" stroke-linejoin="round"/>
<path d="M93.98 578.64L98.74 583.4M93.98 583.4L98.74 578.64" fill="none" stroke="#00FF00" stroke-width="2.5" stroke-linecap="round" stroke-linejoin="round"/>
<path d="M111.56 618.23L116.32 622.99M111.56 622.99L116.32 618.23" fill="none" stroke="#00FF00" stroke-width="2.5" stroke-linecap="round" stroke-linejoin="round"/>
<path d="M129.14 655.75L133.9 660.51M129.14 660.51L133.9 655.75" fill="none" stroke="#00FF00" stroke-width="2.5" stroke-linecap="round" stroke-linejoin="round"/>
<path d="M146.72 692.2L151.48 696.96M146.72 696.96L151.48 692.2" fill="none" stroke="#00FF00" stroke-width="2.5" stroke-linecap="round" stroke-linejoin="round"/>
<path d="M164.3 719.74L169.06 724.5M164.3 724.5L169.06 719.74" fill="none" stroke="#00FF00" stroke-width="2.5" stroke-linecap="round" stroke-linejoin="round"/>
<path d="M181.88 737.51L186.64 742.27M181.88 742.27L186.64 737.51" fill="none" stroke="#00FF00" stroke-width="2.5" stroke-linecap="round" stroke-linejoin="round"/>
<path d="M199.46 749.02L204.22 753.78M199.46 753.78L204.22 749.02" fill="none" stroke="#00FF00" stroke-width="2.5" stroke-linecap="round" stroke-linejoin="round"/>
<path d="M217.04 753.78L221.8 758.54M217.04 758.54L221.8 753.78" fill="none" stroke="#00FF00" stroke-width="2.5" stroke-linecap="round" stroke-linejoin="round"/>
<path d="M234.62 754.77L239.38 759.53M234.62 759.53L239.38 754.77" fill="none" stroke="#00FF00" stroke-width="2.5" stroke-linecap="round" stroke-linejoin="round"/>
<path d="M252.2 755.34L256.96 760.1M252.2 760.1L256.96 755.34" fill="none" stroke="#00FF00" stroke-width="2.5" stroke-linecap="round" stroke-linejoin="round"/>
<path d="M269.78 755.62L274.54 760.38M269.78 760.38L274.54 755.62" fill="none" stroke="#00FF00" stroke-width="2.5" stroke-linecap="round" stroke-linejoin="round"/>
<path d="M287.36 755.62L292.12 760.38M287.36 760.38L292.12 755.62" fill="none" stroke="#00FF00" stroke-width="2.5" stroke-linecap="round" stroke-linejoin="round"/>
<path d="M304.94 755.62L309.7 760.38M304.94 760.38L309.7 755.62" fill="none" stroke="#00FF00" stroke-width="2.5" stroke-linecap="round" stroke-linejoin="round"/>
<path d="M322.52 755.62L327.28 760.38M322.52 760.38L327.28 755.62" fill="none" stroke="#00FF00" stroke-width="2.5" stroke-linecap="round" stroke-linejoin="round"/>
<path d="M340.1 755.62L344.86 760.38M340.1 760.38L344.86 755.62" fill="none" stroke="#00FF00" stroke-width="2.5" stroke-linecap="round" stroke-linejoin="round"/>
<path d="M357.68 755.62L362.44 760.38M357.68 760.38L362.44 755.62" fill="none" stroke="#00FF00" stroke-width="2.5" stroke-linecap="round" stroke-linejoin="round"/>
<path d="M375.26 755.62L380.02 760.38M375.26 760.38L380.02 755.62" fill="none" stroke="#00FF00" stroke-width="2.5" stroke-linecap="round" stroke-linejoin="round"/>
<path d="M61.2 500.11L61.2 476.02L78.78 499.03L96.36 522.89L113.94 559.76L131.52 622.34L149.1 688.51L166.68 731.87L184.26 749.87L201.84 755.17L219.42 756.87L237 757.43L254.58 758L272.16 758L289.74 758L307.32 758L324.9 758L342.48 758L360.06 758L377.64 758" fill="none" stroke="#A020F0" stroke-width="1.6" stroke-linecap="round" stroke-linejoin="round" stroke-dasharray="2.84 3.74 9.42 3.74"/>
<path d="M61.2 503.51L61.2 480.55L78.78 517.48L96.36 577.19L113.94 654.9L131.52 711.27L149.1 739.89L166.68 752.05L184.26 753.75L201.84 754.2L219.42 754.4L237 755.17L254.58 756.3L272.16 757.43L289.74 758L307.32 757.72L324.9 756.87L342.48 757.72L360.06 758L377.64 758" fill="none" stroke="#000000" stroke-width="1.6" stroke-linecap="round" stroke-linejoin="round"/>
<rect x="48.6" y="463.45" width="341.7" height="305.8" fill="none" stroke="#000" stroke-width="1.15"/>
<path d="M42.1 758.0H48.6" stroke="#000" stroke-width="1.15" fill="none"/>
<text transform="translate(35 758) rotate(-90) scale(1.04,1.08)" text-anchor="middle" font-size="9.6">0.0</text>
<path d="M42.1 701.32H48.6" stroke="#000" stroke-width="1.15" fill="none"/>
<text transform="translate(35 701.32) rotate(-90) scale(1.04,1.08)" text-anchor="middle" font-size="9.6">0.2</text>
<path d="M42.1 644.64H48.6" stroke="#000" stroke-width="1.15" fill="none"/>
<text transform="translate(35 644.64) rotate(-90) scale(1.04,1.08)" text-anchor="middle" font-size="9.6">0.4</text>
<path d="M42.1 587.96H48.6" stroke="#000" stroke-width="1.15" fill="none"/>
<text transform="translate(35 587.96) rotate(-90) scale(1.04,1.08)" text-anchor="middle" font-size="9.6">0.6</text>
<path d="M42.1 531.28H48.6" stroke="#000" stroke-width="1.15" fill="none"/>
<text transform="translate(35 531.28) rotate(-90) scale(1.04,1.08)" text-anchor="middle" font-size="9.6">0.8</text>
<path d="M42.1 474.6H48.6" stroke="#000" stroke-width="1.15" fill="none"/>
<text transform="translate(35 474.6) rotate(-90) scale(1.04,1.08)" text-anchor="middle" font-size="9.6">1.0</text>
<path d="M113.94 769.25V775.75" stroke="#000" stroke-width="1.15" fill="none"/>
<text x="113.94" y="791.1" text-anchor="middle" font-size="9.6">0.2</text>
<path d="M184.26 769.25V775.75" stroke="#000" stroke-width="1.15" fill="none"/>
<text x="184.26" y="791.1" text-anchor="middle" font-size="9.6">0.4</text>
<path d="M254.58 769.25V775.75" stroke="#000" stroke-width="1.15" fill="none"/>
<text x="254.58" y="791.1" text-anchor="middle" font-size="9.6">0.6</text>
<path d="M324.9 769.25V775.75" stroke="#000" stroke-width="1.15" fill="none"/>
<text x="324.9" y="791.1" text-anchor="middle" font-size="9.6">0.8</text>
<text x="219.35" y="444.35" text-anchor="middle" font-size="14.85" font-weight="bold">Real Data Background</text>
<text x="219.35" y="814.8" text-anchor="middle" font-size="12.8">Difference of seeded correlations</text>
<text transform="translate(11 616.15) rotate(-90) scale(1,1.05)" text-anchor="middle" font-size="12.85">False Negative Rate</text>
<path d="M521.4 540.9H556.6" fill="none" stroke="#000000" stroke-width="2.7" stroke-linecap="round"/>
<text x="574.3" y="548.1" font-size="19.9">DCM</text>
<path d="M521.4 564.6H556.6" fill="none" stroke="#0000FF" stroke-width="2.7" stroke-linecap="round" stroke-dasharray="9.2 10.8"/>
<path d="M539 557.8L544.89 568L533.11 568Z" fill="none" stroke="#0000FF" stroke-width="2.7" stroke-linecap="round" stroke-linejoin="round"/>
<text x="574.3" y="571.8" font-size="19.9">WGCNA</text>
<path d="M521.4 588.3H556.6" fill="none" stroke="#FF0000" stroke-width="2.7" stroke-linecap="round" stroke-dasharray="1.7 8.3"/>
<path d="M532.82 588.3H545.18M539 582.12V594.48" fill="none" stroke="#FF0000" stroke-width="2.7" stroke-linecap="round" stroke-linejoin="round"/>
<text x="574.3" y="595.5" font-size="19.9">D-EST</text>
<path d="M521.4 612H556.6" fill="none" stroke="#00FF00" stroke-width="2.7" stroke-linecap="round" stroke-dasharray="1.7 8.3 9.2 8.3"/>
<path d="M534.63 607.63L543.37 616.37M534.63 616.37L543.37 607.63" fill="none" stroke="#00FF00" stroke-width="2.7" stroke-linecap="round" stroke-linejoin="round"/>
<text x="574.3" y="619.2" font-size="19.9">FISH</text>
<path d="M521.4 635.7H556.6" fill="none" stroke="#FFA500" stroke-width="2.7" stroke-linecap="round" stroke-dasharray="16.7 8.3"/>
<path d="M532.82 635.7L539 629.52L545.18 635.7L539 641.88Z" fill="none" stroke="#FFA500" stroke-width="2.7" stroke-linecap="round" stroke-linejoin="round"/>
<text x="574.3" y="642.9" font-size="19.9">DCP</text>
<path d="M521.4 659.4H556.6" fill="none" stroke="#A020F0" stroke-width="2.7" stroke-linecap="round" stroke-dasharray="4.2 5.8 14.2 5.8"/>
<text x="574.3" y="666.6" font-size="19.9">CLASSIC</text>
</svg>
</body></html>
